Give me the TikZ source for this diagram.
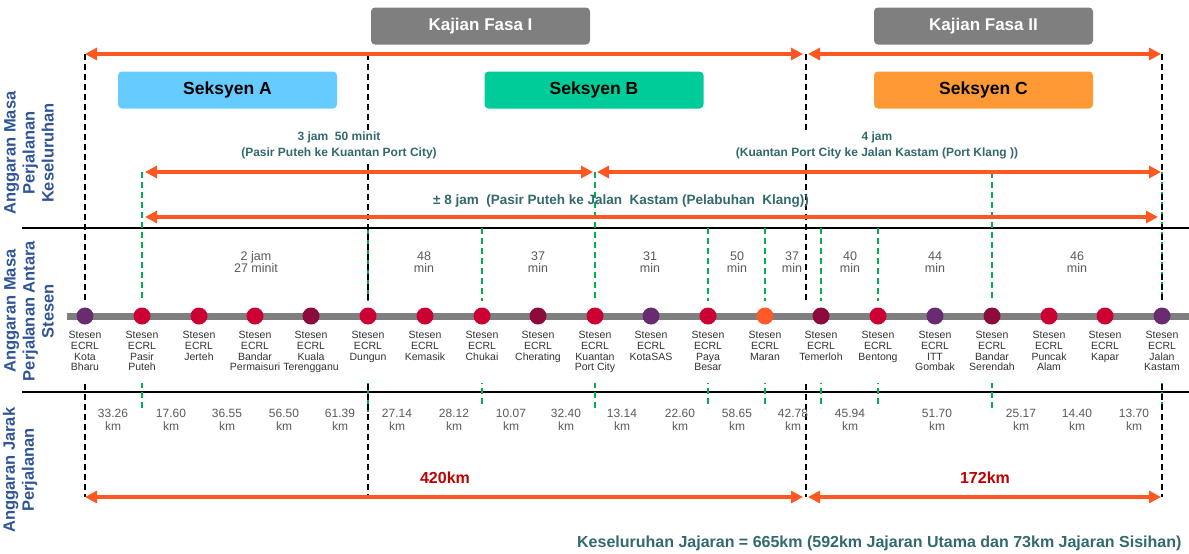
\documentclass[tikz,border=0pt]{standalone}
\usepackage{fontspec}
\setmainfont{Liberation Sans}
\usetikzlibrary{arrows.meta}
\definecolor{arroworange}{RGB}{255,87,34}
\definecolor{sideblue}{RGB}{47,85,151}
\definecolor{tealtxt}{RGB}{50,105,110}
\definecolor{boxgray}{RGB}{127,127,127}
\definecolor{secA}{RGB}{102,204,255}
\definecolor{secB}{RGB}{0,204,153}
\definecolor{secC}{RGB}{255,153,51}
\definecolor{stred}{RGB}{204,0,51}
\definecolor{stdark}{RGB}{140,10,60}
\definecolor{stpurple}{RGB}{106,44,112}
\definecolor{storange}{RGB}{255,90,40}
\definecolor{guidegreen}{RGB}{0,176,80}
\definecolor{txtgray}{RGB}{89,89,89}
\definecolor{kmred}{RGB}{192,0,0}
\tikzset{span/.style={{Triangle[length=12pt,width=12pt]}-{Triangle[length=12pt,width=12pt]},
  line width=3.5pt, arroworange}}
\tikzset{kguide/.style={black, dash pattern=on 6pt off 4pt, line width=1.3pt}}
\tikzset{gguide/.style={guidegreen, dash pattern=on 6pt off 4pt, line width=1.5pt}}
\tikzset{phasebox/.style={rounded corners=4pt, minimum width=219pt, minimum height=37pt,
  fill=boxgray, text=white, font=\fontsize{17}{17}\selectfont\bfseries}}
\tikzset{secbox/.style={rounded corners=4pt, minimum width=219pt, minimum height=37pt,
  text=black, font=\fontsize{17.5}{17.5}\selectfont\bfseries}}
\tikzset{sidelbl/.style={rotate=90, align=center, text=sideblue,
  font=\fontsize{16.5}{19}\selectfont\bfseries}}
\tikzset{timelbl/.style={fill=white, inner sep=1pt, align=center, text=tealtxt,
  font=\fontsize{12}{16}\selectfont\bfseries}}
\tikzset{stn/.style={circle, minimum size=17pt, inner sep=0pt}}
\tikzset{stnlbl/.style={anchor=north, align=center, inner sep=0pt, text=black!80,
  font=\fontsize{10.5}{10.8}\selectfont}}
\tikzset{minlbl/.style={align=center, text=txtgray, font=\fontsize{12.5}{12.5}\selectfont}}
\tikzset{kmlbl/.style={align=center, text=txtgray, font=\fontsize{12}{13}\selectfont}}

\begin{document}
\begin{tikzpicture}[x=1pt, y=-1pt]
      \useasboundingbox (0,0) rectangle (1189,554);
      % phases and sections
      \node [phasebox] (fasa1) at (480.5,26) {Kajian Fasa I};
      \node [phasebox] (fasa2) at (983.5,26) {Kajian Fasa II};
      \node [secbox, fill=secA] (seka) at (227.5,90) {Seksyen A};
      \node [secbox, fill=secB] (sekb) at (594,90) {Seksyen B};
      \node [secbox, fill=secC] (sekc) at (983.5,90) {Seksyen C};
      % row lines
      \draw [line width=1.6pt] (22,228) -- (1189,228);
      \draw [line width=1.6pt] (22,392) -- (1189,392);
      % guides
      \draw [gguide] (142,172) -- (142,412);
      \draw [gguide] (368,228) -- (368,412);
      \draw [gguide] (482,228) -- (482,408);
      \draw [gguide] (595,172) -- (595,412);
      \draw [gguide] (708,228) -- (708,408);
      \draw [gguide] (765,228) -- (765,408);
      \draw [gguide] (821,228) -- (821,408);
      \draw [gguide] (878,228) -- (878,408);
      \draw [gguide] (992,172) -- (992,412);
      \draw [gguide] (1162,172) -- (1162,412);
      \draw [kguide] (85,54) -- (85,497);
      \draw [kguide] (368,54) -- (368,497);
      \draw [kguide] (806,54) -- (806,497);
      \draw [kguide] (1162,54) -- (1162,497);
      \fill [white] (62,301) rectangle (1189,383);
      % overall times
      \node [timelbl] (t1) at (339,145) {3 jam\ \ 50 minit\\(Pasir Puteh ke Kuantan Port City)};
      \node [timelbl] (t2) at (877,145) {4 jam\\(Kuantan Port City ke Jalan Kastam (Port Klang ))};
      \node [text=tealtxt, font=\fontsize{13.5}{13.5}\selectfont\bfseries] (t3) at (621,201)
        {± 8 jam\ \ (Pasir Puteh ke Jalan\ \ Kastam (Pelabuhan\ \ Klang))};
      \coordinate (fa1w) at (85,54);
      \coordinate (fa1e) at (803,54);
      \coordinate (fa2w) at (808,54);
      \coordinate (fa2e) at (1161,54);
      \coordinate (ppa) at (145,172);
      \coordinate (kpa) at (593,172);
      \coordinate (kpb) at (597,172);
      \coordinate (jka) at (1161,172);
      \coordinate (ppc) at (145,217);
      \coordinate (jkc) at (1158,217);
      \draw [span] (fa1w) -- (fa1e);
      \draw [span] (fa2w) -- (fa2e);
      \draw [span] (ppa) -- (kpa);
      \draw [span] (kpb) -- (jka);
      \draw [span] (ppc) -- (jkc);
      % side labels
      \node [sidelbl] (side1) at (29,153) {Anggaran Masa\\Perjalanan\\Keseluruhan};
      \node [sidelbl] (side2) at (29,311) {Anggaran Masa\\Perjalanan Antara\\Stesen};
      \node [sidelbl] (side3) at (20,470) {Anggaran Jarak\\Perjalanan};
      % track and stations
      \draw [line width=7pt, boxgray] (67,316) -- (1189,316);
      \node [stn, fill=stpurple] (kb) at (85,316) {};
      \node [stn, fill=stred] (pp) at (142,316) {};
      \node [stn, fill=stred] (jt) at (199,316) {};
      \node [stn, fill=stred] (bp) at (255,316) {};
      \node [stn, fill=stdark] (kt) at (311,316) {};
      \node [stn, fill=stred] (dg) at (368,316) {};
      \node [stn, fill=stred] (km) at (425,316) {};
      \node [stn, fill=stred] (ck) at (482,316) {};
      \node [stn, fill=stdark] (ch) at (538,316) {};
      \node [stn, fill=stred] (kp) at (595,316) {};
      \node [stn, fill=stpurple] (ks) at (651,316) {};
      \node [stn, fill=stred] (pb) at (708,316) {};
      \node [stn, fill=storange] (mr) at (765,316) {};
      \node [stn, fill=stdark] (tm) at (821,316) {};
      \node [stn, fill=stred] (bt) at (878,316) {};
      \node [stn, fill=stpurple] (ig) at (935,316) {};
      \node [stn, fill=stdark] (bs) at (992,316) {};
      \node [stn, fill=stred] (pa) at (1049,316) {};
      \node [stn, fill=stred] (kr) at (1105,316) {};
      \node [stn, fill=stpurple] (jk) at (1162,316) {};
      \node [stnlbl] (kbl) at (85,331) {Stesen\\ECRL\\Kota\\Bharu};
      \node [stnlbl] (ppl) at (142,331) {Stesen\\ECRL\\Pasir\\Puteh};
      \node [stnlbl] (jtl) at (199,331) {Stesen\\ECRL\\Jerteh};
      \node [stnlbl] (bpl) at (255,331) {Stesen\\ECRL\\Bandar\\Permaisuri};
      \node [stnlbl] (ktl) at (311,331) {Stesen\\ECRL\\Kuala\\Terengganu};
      \node [stnlbl] (dgl) at (368,331) {Stesen\\ECRL\\Dungun};
      \node [stnlbl] (kml) at (425,331) {Stesen\\ECRL\\Kemasik};
      \node [stnlbl] (ckl) at (482,331) {Stesen\\ECRL\\Chukai};
      \node [stnlbl] (chl) at (538,331) {Stesen\\ECRL\\Cherating};
      \node [stnlbl] (kpl) at (595,331) {Stesen\\ECRL\\Kuantan\\Port City};
      \node [stnlbl] (ksl) at (651,331) {Stesen\\ECRL\\KotaSAS};
      \node [stnlbl] (pbl) at (708,331) {Stesen\\ECRL\\Paya\\Besar};
      \node [stnlbl] (mrl) at (765,331) {Stesen\\ECRL\\Maran};
      \node [stnlbl] (tml) at (821,331) {Stesen\\ECRL\\Temerloh};
      \node [stnlbl] (btl) at (878,331) {Stesen\\ECRL\\Bentong};
      \node [stnlbl] (igl) at (935,331) {Stesen\\ECRL\\ITT\\Gombak};
      \node [stnlbl] (bsl) at (992,331) {Stesen\\ECRL\\Bandar\\Serendah};
      \node [stnlbl] (pal) at (1049,331) {Stesen\\ECRL\\Puncak\\Alam};
      \node [stnlbl] (krl) at (1105,331) {Stesen\\ECRL\\Kapar};
      \node [stnlbl] (jkl) at (1162,331) {Stesen\\ECRL\\Jalan\\Kastam};
      % times between stations
      \node [minlbl] (m1) at (256,262) {2 jam\\27 minit};
      \node [minlbl] (m2) at (424,262) {48\\min};
      \node [minlbl] (m3) at (538,262) {37\\min};
      \node [minlbl] (m4) at (650,262) {31\\min};
      \node [minlbl] (m5) at (737,262) {50\\min};
      \node [minlbl] (m6) at (792,262) {37\\min};
      \node [minlbl] (m7) at (850,262) {40\\min};
      \node [minlbl] (m8) at (935,262) {44\\min};
      \node [minlbl] (m9) at (1077,262) {46\\min};
      % distances
      \node [kmlbl] (d1) at (113,420) {33.26\\km};
      \node [kmlbl] (d2) at (171,420) {17.60\\km};
      \node [kmlbl] (d3) at (227,420) {36.55\\km};
      \node [kmlbl] (d4) at (284,420) {56.50\\km};
      \node [kmlbl] (d5) at (340,420) {61.39\\km};
      \node [kmlbl] (d6) at (397,420) {27.14\\km};
      \node [kmlbl] (d7) at (454,420) {28.12\\km};
      \node [kmlbl] (d8) at (511,420) {10.07\\km};
      \node [kmlbl] (d9) at (566,420) {32.40\\km};
      \node [kmlbl] (d10) at (622,420) {13.14\\km};
      \node [kmlbl] (d11) at (680,420) {22.60\\km};
      \node [kmlbl] (d12) at (737,420) {58.65\\km};
      \node [kmlbl] (d13) at (793,420) {42.78\\km};
      \node [kmlbl] (d14) at (850,420) {45.94\\km};
      \node [kmlbl] (d15) at (937,420) {51.70\\km};
      \node [kmlbl] (d16) at (1021,420) {25.17\\km};
      \node [kmlbl] (d17) at (1077,420) {14.40\\km};
      \node [kmlbl] (d18) at (1134,420) {13.70\\km};
      % phase lengths
      \node [text=kmred, font=\fontsize{16}{16}\selectfont\bfseries] (len1) at (445,478) {420km};
      \node [text=kmred, font=\fontsize{16}{16}\selectfont\bfseries] (len2) at (985,478) {172km};
      \coordinate (la1w) at (85,497);
      \coordinate (la1e) at (803,497);
      \coordinate (la2w) at (808,497);
      \coordinate (la2e) at (1161,497);
      \draw [span] (la1w) -- (la1e);
      \draw [span] (la2w) -- (la2e);
      \node [anchor=east, text=tealtxt, font=\fontsize{16}{16}\selectfont\bfseries] (total) at (1185,543)
        {Keseluruhan Jajaran = 665km (592km Jajaran Utama dan 73km Jajaran Sisihan)};
    \end{tikzpicture}
\end{document}
